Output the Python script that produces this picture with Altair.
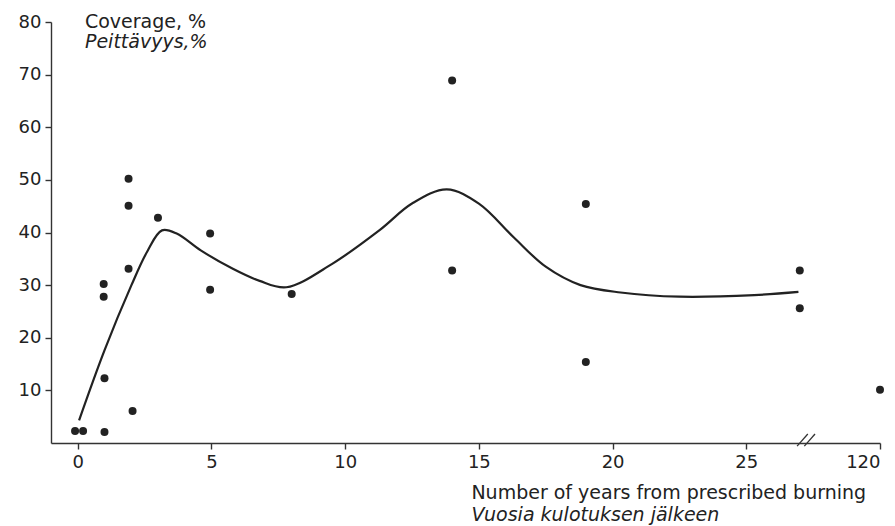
import altair as alt
import pandas as pd

# Observed coverage (%) against years since prescribed burning
obs_years = [-0.1, 0.2, 1.0, 1.0, 0.97, 0.97, 1.9, 1.9, 1.9, 2.05, 3.0,
             4.95, 4.95, 8.0, 14.0, 14.0, 19.0, 19.0, 27.0, 27.0, 120]
obs_cover = [2.3, 2.3, 2.1, 12.3, 27.8, 30.2, 50.2, 45.1, 33.1, 6.1, 42.8,
             39.8, 29.1, 28.3, 68.9, 32.8, 45.4, 15.4, 32.8, 25.6, 10.1]

# Smoothed trend through the observations
fit_years = [0.05, 1.0, 2.0, 2.6, 3.15, 3.7, 4.6, 5.8, 6.8, 7.8,
             9.5, 11.3, 12.5, 13.8, 15.0, 16.3, 17.5, 18.8, 20.3,
             22.5, 25.3, 26.95]
fit_cover = [4.3, 17.6, 29.9, 36.4, 40.4, 39.8, 36.6, 33.1, 30.8, 29.6,
             34.0, 40.5, 45.5, 48.2, 45.5, 39.1, 33.5, 30.0, 28.6,
             27.8, 28.1, 28.7]

# x axis: linear up to 27 years, then a break with 120 years placed at 30
x_ticks = [0, 5, 10, 15, 20, 25, 30]
y_ticks = [10, 20, 30, 40, 50, 60, 70, 80]
BREAK_AT = 27.5
FAR_POS = 30


def axis_pos(year):
    return year if year <= BREAK_AT else FAR_POS


obs = pd.DataFrame({"pos": [axis_pos(v) for v in obs_years], "cover": obs_cover,
                    "years": obs_years})
fit = pd.DataFrame({"pos": fit_years, "cover": fit_cover})

FONT = "DejaVu Sans"
INK = "#222222"

x_scale = alt.Scale(domain=[-1, 30], nice=False, zero=False)
y_scale = alt.Scale(domain=[0, 80], nice=False, zero=True)

x_axis = alt.Axis(values=x_ticks, title=None, grid=False,
                  labelExpr="datum.value == 30 ? '120' : datum.label",
                  labelFont=FONT, labelFontSize=18, labelColor=INK,
                  labelPadding=4, tickSize=6, tickColor="#333",
                  domainColor="#333", domainWidth=1.4, tickWidth=1.4)
y_axis = alt.Axis(values=y_ticks, title=None, grid=False,
                  labelFont=FONT, labelFontSize=18, labelColor=INK,
                  labelPadding=4, tickSize=6, tickColor="#333",
                  domainColor="#333", domainWidth=1.4, tickWidth=1.4)

base_x = alt.X("pos:Q", scale=x_scale, axis=x_axis)
base_y = alt.Y("cover:Q", scale=y_scale, axis=y_axis)

curve = alt.Chart(fit).mark_line(interpolate="catmull-rom", color=INK,
                                  strokeWidth=2.2).encode(x=base_x, y=base_y)

dots = alt.Chart(obs).mark_circle(size=64, color=INK, opacity=1).encode(
    x=alt.X("pos:Q", scale=x_scale), y=alt.Y("cover:Q", scale=y_scale))

# Axis-break marks on the x axis
brk = pd.DataFrame({"x": [26.9, 27.17], "x2": [27.3, 27.57],
                    "y": [-0.6, -0.6], "y2": [1.7, 1.7]})
breaks = alt.Chart(brk).mark_rule(color="#333", strokeWidth=1.3).encode(
    x=alt.X("x:Q", scale=x_scale), x2="x2:Q",
    y=alt.Y("y:Q", scale=y_scale), y2="y2:Q")

# Titles, English above Finnish
lab_plain = pd.DataFrame({"x": [0.27, 14.72], "y": [78.8, -10.6],
                          "t": ["Coverage, %", "Number of years from prescribed burning"]})
lab_ital = pd.DataFrame({"x": [0.27, 14.72], "y": [75.0, -14.8],
                         "t": ["Peittävyys,%", "Vuosia kulotuksen jälkeen"]})

plain = alt.Chart(lab_plain).mark_text(align="left", baseline="alphabetic",
                                       font=FONT, fontSize=19, color=INK).encode(
    x=alt.X("x:Q", scale=x_scale), y=alt.Y("y:Q", scale=y_scale), text="t:N")
ital = alt.Chart(lab_ital).mark_text(align="left", baseline="alphabetic",
                                     font=FONT, fontSize=19, fontStyle="italic",
                                     color=INK).encode(
    x=alt.X("x:Q", scale=x_scale), y=alt.Y("y:Q", scale=y_scale), text="t:N")

chart = alt.layer(curve, dots, breaks, plain, ital).properties(
    width=829, height=421,
    autosize=alt.AutoSizeParams(type="none"),
    padding={"left": 51, "top": 22, "right": 15, "bottom": 83},
    background="white",
).configure_view(stroke=None)

chart.save("out.html", embed_options={"renderer": "svg", "actions": False})
